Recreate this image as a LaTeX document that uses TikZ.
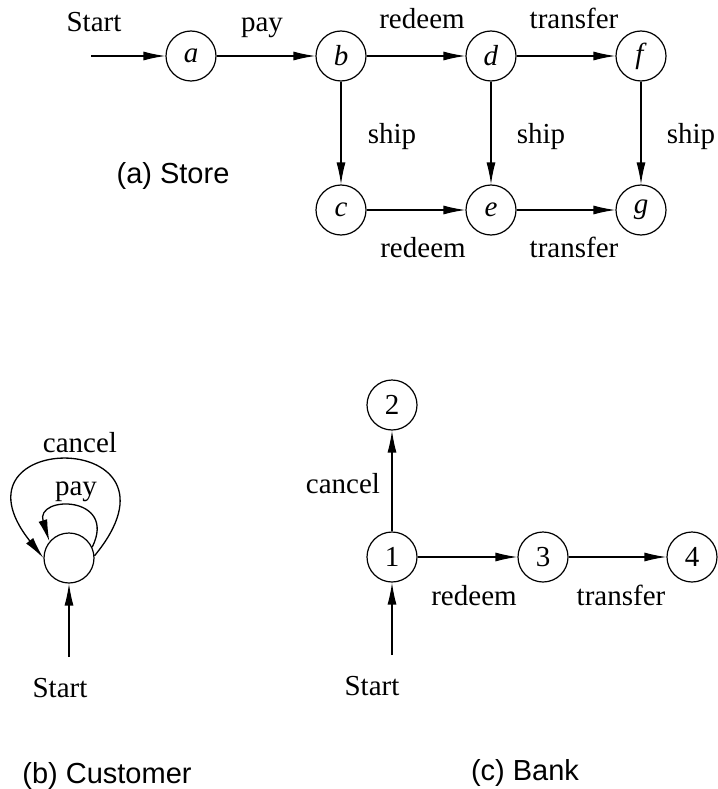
\documentclass[tikz,border=0pt]{standalone}
\usepackage{fontspec}
\setmainfont{Liberation Serif}
\setsansfont{Liberation Sans}
\usetikzlibrary{arrows.meta}

\tikzset{
  state/.style={draw,circle,minimum size=50pt,inner sep=0pt,line width=1.2pt,
    font=\fontsize{29}{34}\selectfont},
  move/.style={line width=1.3pt,-{Latex[length=22pt,width=9pt]}},
  lab/.style={anchor=base,inner sep=0pt,font=\fontsize{29}{34}\selectfont},
  caption/.style={anchor=base,inner sep=0pt,font=\fontsize{29}{34}\selectfont\sffamily}
}

\begin{document}
\begin{tikzpicture}[x=1pt,y=-1pt]
\useasboundingbox (0,0) rectangle (717,789);

% (a) Store
\node[state] (a) at (191,56) {\textit{a}};
\node[state] (b) at (341,56) {\textit{b}};
\node[state] (d) at (491,56) {\textit{d}};
\node[state] (f) at (641,56) {\textit{f}};
\node[state] (c) at (341,210) {\textit{c}};
\node[state] (e) at (491,210) {\textit{e}};
\node[state] (g) at (641,210) {\textit{g}};
\coordinate (a-in) at (91,56);

\draw[move] (a-in) -- (a);
\draw[move] (a) -- (b);
\draw[move] (b) -- (d);
\draw[move] (d) -- (f);
\draw[move] (b) -- (c);
\draw[move] (d) -- (e);
\draw[move] (f) -- (g);
\draw[move] (c) -- (e);
\draw[move] (e) -- (g);

\node[lab] (start-a) at (94,32) {Start};
\node[lab] (pay-ab) at (262,32) {pay};
\node[lab] (redeem-bd) at (422,29) {redeem};
\node[lab] (transfer-df) at (574,29) {transfer};
\node[lab] (ship-bc) at (392,143) {ship};
\node[lab] (ship-de) at (541,143) {ship};
\node[lab] (ship-fg) at (691,143) {ship};
\node[lab] (redeem-ce) at (423,257) {redeem};
\node[lab] (transfer-eg) at (574,257) {transfer};
\node[caption] (store) at (173,183) {(a) Store};

% (b) Customer
\node[state] (cust) at (69,558) {};
\coordinate (cust-in) at (69,657);
\draw[move] (cust-in) -- (cust);
\draw[move] (cust.5) .. controls (200,428) and (-60,428) .. (cust.180);
\draw[move] (cust.25) .. controls (118,495) and (35,495) .. (cust.140);

\node[lab] (cancel-cust) at (80,452) {cancel};
\node[lab] (pay-cust) at (76,495) {pay};
\node[lab] (start-cust) at (60,697) {Start};
\node[caption] (customer) at (107,783) {(b) Customer};

% (c) Bank
\node[state] (one) at (392,557) {1};
\node[state] (two) at (392,405) {2};
\node[state] (three) at (543,557) {3};
\node[state] (four) at (692,557) {4};
\coordinate (one-in) at (392,655);

\draw[move] (one-in) -- (one);
\draw[move] (one) -- (two);
\draw[move] (one) -- (three);
\draw[move] (three) -- (four);

\node[lab] (cancel-bank) at (343,493) {cancel};
\node[lab] (redeem-bank) at (474,605) {redeem};
\node[lab] (transfer-bank) at (621,605) {transfer};
\node[lab] (start-bank) at (372,695) {Start};
\node[caption] (bank) at (525,780) {(c) Bank};
\end{tikzpicture}
\end{document}
